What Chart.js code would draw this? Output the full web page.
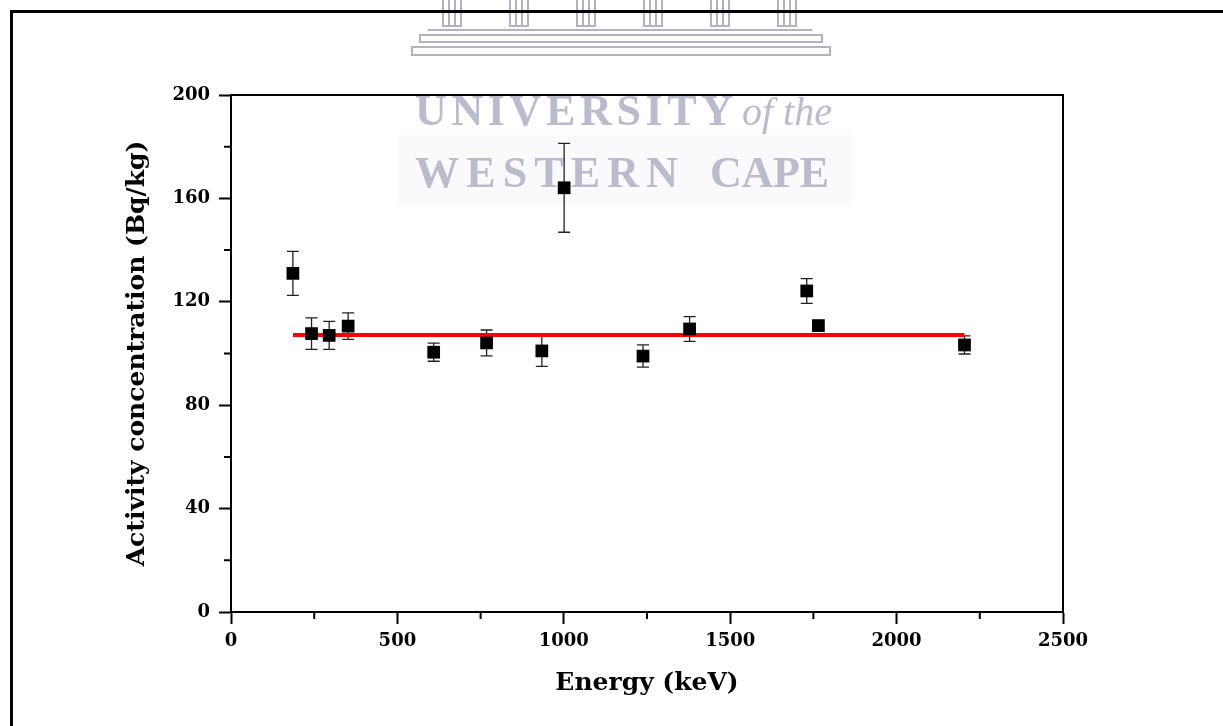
<!DOCTYPE html>
<html lang="en">
<head>
<meta charset="UTF-8" />
<title>Activity concentration vs energy</title>
<style>
  body { margin: 0; background: #fff; }
  canvas { display: block; }
</style>
</head>
<body>
<canvas id="myChart" width="1223" height="726"></canvas>
<script src="https://cdn.jsdelivr.net/npm/chart.js"></script>
<script>
// gamma lines (keV), activity (Bq/kg) and its uncertainty
const energies = [186, 242, 295, 352, 609, 768, 934, 1001, 1238, 1378, 1730, 1765, 2204];
const activity = [131.0, 107.7, 107.0, 110.6, 100.5, 104.1, 101.0, 164.1, 99.0, 109.5, 124.2, 110.8, 103.3];
const errors   = [8.5, 6.1, 5.4, 5.1, 3.5, 5.0, 6.0, 17.2, 4.3, 4.8, 4.8, 1.0, 3.5];

// mean activity, drawn across the energy range
const meanX = [186, 2204];
const meanValue = 107.2;

const xTicks = [0, 500, 1000, 1500, 2000, 2500];
const yTicks = [0, 40, 80, 120, 160, 200];

const tickFont = { family: 'DejaVu Serif', weight: 'bold', size: 18 };
const titleFont = { family: 'DejaVu Serif', weight: 'bold', size: 25 };

// spread letters of a word evenly between x0 and x1
function spaced(ctx, text, x0, x1, y) {
  const widths = [...text].map(c => ctx.measureText(c).width);
  const total = widths.reduce((a, b) => a + b, 0);
  const gap = text.length > 1 ? (x1 - x0 - total) / (text.length - 1) : 0;
  let x = x0;
  [...text].forEach((c, i) => { ctx.fillText(c, x, y); x += widths[i] + gap; });
}

function drawCrest(ctx) {
  ctx.save();
  ctx.strokeStyle = 'rgb(178,178,194)';
  ctx.lineWidth = 2;
  const cols = [452, 519, 586, 653, 720, 787];
  cols.forEach(cx => {
    ctx.strokeRect(cx - 9, -2, 18, 28);
    ctx.beginPath();
    ctx.moveTo(cx - 3, 0); ctx.lineTo(cx - 3, 26);
    ctx.moveTo(cx + 3, 0); ctx.lineTo(cx + 3, 26);
    ctx.stroke();
  });
  ctx.beginPath();
  ctx.moveTo(428, 30); ctx.lineTo(812, 30);
  ctx.stroke();
  ctx.strokeRect(420, 35, 402, 7);
  ctx.strokeRect(412, 47, 418, 8);

  ctx.fillStyle = 'rgb(250,250,252)';
  ctx.fillRect(398, 135, 455, 70);

  ctx.fillStyle = 'rgb(186,187,204)';
  ctx.textBaseline = 'alphabetic';
  ctx.font = 'bold 44px "Liberation Serif"';
  spaced(ctx, 'UNIVERSITY', 415, 733, 125);
  ctx.font = 'italic 40px "Liberation Serif"';
  ctx.fillText('of the', 742, 125);
  ctx.font = 'bold 44px "Liberation Serif"';
  spaced(ctx, 'WESTERN', 415, 678, 187);
  spaced(ctx, 'CAPE', 710, 829, 187);
  ctx.restore();
}

const decor = {
  id: 'decor',
  beforeDraw(chart) {
    const ctx = chart.ctx;
    ctx.save();
    ctx.fillStyle = '#fff';
    ctx.fillRect(0, 0, chart.width, chart.height);
    drawCrest(ctx);
    // page frame
    ctx.fillStyle = '#000';
    ctx.fillRect(10, 10, chart.width - 10, 3);
    ctx.fillRect(10, 10, 3, chart.height - 10);
    ctx.restore();
  },
  beforeDatasetsDraw(chart) {
    const { ctx, scales: { x, y } } = chart;
    ctx.save();
    ctx.strokeStyle = '#222';
    ctx.lineWidth = 1.3;
    energies.forEach((e, i) => {
      const px = x.getPixelForValue(e);
      const top = y.getPixelForValue(activity[i] + errors[i]);
      const bot = y.getPixelForValue(activity[i] - errors[i]);
      ctx.beginPath();
      ctx.moveTo(px, top); ctx.lineTo(px, bot);
      ctx.moveTo(px - 6, top); ctx.lineTo(px + 6, top);
      ctx.moveTo(px - 6, bot); ctx.lineTo(px + 6, bot);
      ctx.stroke();
    });
    ctx.restore();
  },
  afterDraw(chart) {
    const { ctx, chartArea: a, scales: { x, y } } = chart;
    ctx.save();
    ctx.strokeStyle = '#000';
    ctx.lineWidth = 2;
    ctx.beginPath();
    ctx.moveTo(a.left, a.top); ctx.lineTo(a.right, a.top); ctx.lineTo(a.right, a.bottom);
    // minor ticks halfway between the labelled ones
    for (let i = 0; i < xTicks.length - 1; i++) {
      const px = x.getPixelForValue((xTicks[i] + xTicks[i + 1]) / 2);
      ctx.moveTo(px, a.bottom); ctx.lineTo(px, a.bottom + 7);
    }
    for (let i = 0; i < yTicks.length - 1; i++) {
      const py = y.getPixelForValue((yTicks[i] + yTicks[i + 1]) / 2);
      ctx.moveTo(a.left, py); ctx.lineTo(a.left - 7, py);
    }
    ctx.stroke();
    ctx.restore();
  }
};

const config = {
  data: {
    datasets: [
      {
        type: 'scatter',
        order: 0,
        data: energies.map((e, i) => ({ x: e, y: activity[i] })),
        pointStyle: 'rect',
        pointRadius: 9,
        pointBorderWidth: 0,
        backgroundColor: '#000',
        borderColor: '#000'
      },
      {
        type: 'line',
        order: 1,
        data: meanX.map(e => ({ x: e, y: meanValue })),
        borderColor: '#ff0000',
        borderWidth: 4,
        pointRadius: 0,
        fill: false
      }
    ]
  },
  options: {
    responsive: false,
    animation: false,
    layout: { padding: { top: 95, right: 160, left: 0, bottom: 0 } },
    plugins: { legend: { display: false }, tooltip: { enabled: false } },
    scales: {
      x: {
        type: 'linear',
        min: xTicks[0],
        max: xTicks[xTicks.length - 1],
        afterBuildTicks: s => { s.ticks = xTicks.map(v => ({ value: v })); },
        afterFit: s => { s.height = 114; },
        grid: { drawOnChartArea: false, tickLength: 12, tickWidth: 2, color: '#000' },
        border: { color: '#000', width: 2 },
        ticks: { color: '#000', font: tickFont, padding: 7, maxRotation: 0, callback: v => String(v) },
        title: {
          display: true, text: 'Energy (keV)', color: '#000', font: titleFont,
          padding: { top: 0, bottom: 28 }
        }
      },
      y: {
        type: 'linear',
        min: yTicks[0],
        max: yTicks[yTicks.length - 1],
        afterBuildTicks: s => { s.ticks = yTicks.map(v => ({ value: v })); },
        afterFit: s => { s.width = 231; },
        grid: { drawOnChartArea: false, tickLength: 12, tickWidth: 2, color: '#000' },
        border: { color: '#000', width: 2 },
        ticks: { color: '#000', font: tickFont, padding: 9, callback: v => String(v) },
        title: {
          display: true, text: 'Activity concentration (Bq/kg)', color: '#000', font: titleFont,
          padding: { top: 122, bottom: 0 }
        }
      }
    }
  },
  plugins: [decor]
};

const myChart = new Chart(document.getElementById('myChart'), config);
</script>
</body>
</html>
